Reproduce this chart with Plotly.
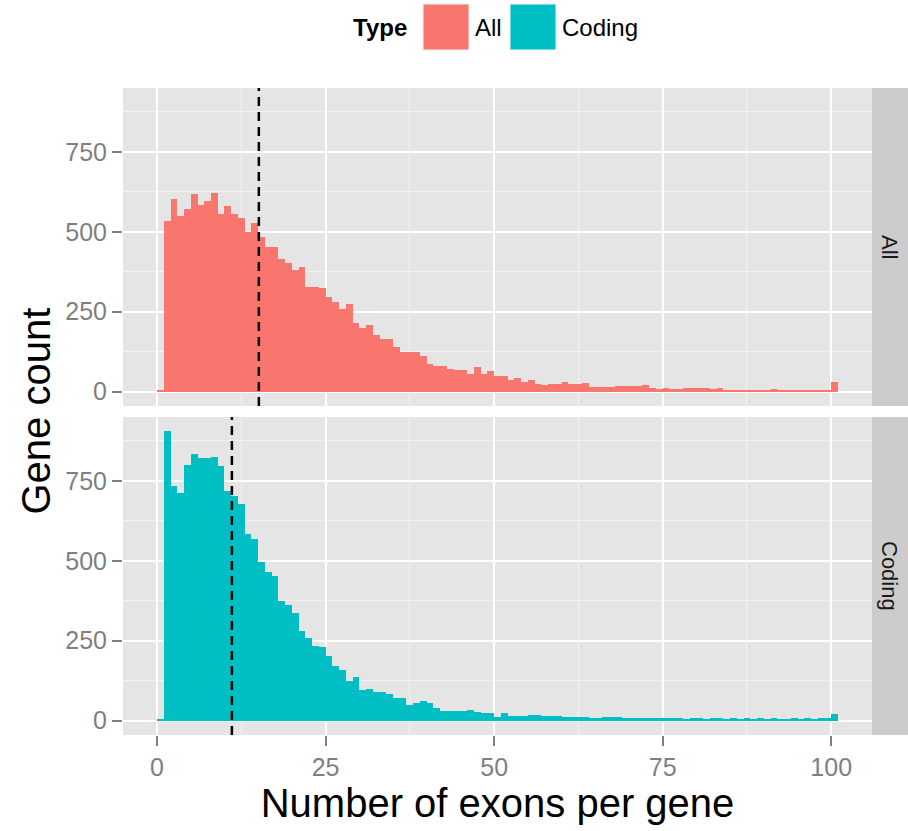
import plotly.graph_objects as go

# ---- data ----
bin_start = list(range(0, 101))  # exon-count bins [k, k+1)
all_counts = [3, 534, 603, 550, 571, 619, 584, 595, 623, 555,
              582, 555, 543, 498, 527, 485, 451, 451, 415, 402,
              381, 390, 326, 326, 323, 295, 280, 260, 275, 215,
              199, 210, 178, 165, 165, 140, 124, 124, 124, 110,
              87, 81, 81, 72, 69, 69, 56, 77, 55, 66,
              48, 48, 35, 44, 29, 35, 25, 20, 24, 24,
              29, 25, 25, 26, 15, 14, 13, 13, 18, 19,
              18, 19, 21, 10, 9, 10, 9, 9, 12, 11,
              10, 11, 9, 10, 5, 6, 5, 4, 6, 5,
              5, 7, 5, 4, 5, 6, 5, 4, 5, 6,
              29]
coding_counts = [3, 907, 734, 711, 800, 834, 821, 821, 824, 798,
                 720, 704, 677, 584, 568, 496, 464, 454, 373, 362,
                 336, 281, 260, 234, 230, 201, 170, 157, 124, 136,
                 96, 100, 91, 90, 83, 70, 70, 50, 55, 62,
                 54, 38, 31, 31, 31, 31, 34, 28, 24, 24,
                 10, 23, 15, 15, 15, 17, 17, 13, 13, 13,
                 11, 11, 11, 11, 7, 8, 11, 12, 11, 9,
                 8, 7, 8, 9, 7, 7, 8, 7, 6, 8,
                 7, 6, 7, 8, 6, 7, 6, 7, 6, 7,
                 6, 7, 6, 6, 7, 6, 7, 6, 7, 8,
                 20]
types = ["All", "Coding"]
type_colors = ["#F8766D", "#00BFC4"]
medians = [15.1, 11.1]
x_ticks = [0, 25, 50, 75, 100]
y_ticks = [0, 250, 500, 750]
x_title = "Number of exons per gene"
y_title = "Gene count"
legend_title = "Type"

W, H = 908, 831
FONT = "Liberation Sans"

def px(x):
    return x / W

def py(y):
    return 1 - y / H

# panel geometry (pixels)
PL, PR = 123, 872
panels_y = [(88, 406), (417, 735)]

fig = go.Figure()
centers = [b + 0.5 for b in bin_start]
series = [all_counts, coding_counts]
for i, (name, counts, col) in enumerate(zip(types, series, type_colors)):
    sfx = "" if i == 0 else "2"
    fig.add_trace(go.Bar(x=centers, y=counts, width=1.0, name=name,
                         marker=dict(color=col, line=dict(width=0)),
                         xaxis="x" + sfx, yaxis="y" + sfx, showlegend=False,
                         hoverinfo="x+y"))

axis_common = dict(showline=False, zeroline=False, gridcolor="white", gridwidth=2,
                   tickfont=dict(family=FONT, size=25, color="#7F7F7F"),
                   ticks="outside", tickcolor="#7F7F7F", tickwidth=2, ticklen=10)
xr = [-5.05, 106.05]
yr = [-45, 950]
minor_x = dict(showgrid=True, gridcolor="#F2F2F2", gridwidth=1,
               tickvals=[12.5, 37.5, 62.5, 87.5], ticks="")
minor_y = dict(showgrid=True, gridcolor="#F2F2F2", gridwidth=1,
               tickvals=[125, 375, 625, 875], ticks="")

layout = dict(width=W, height=H, margin=dict(l=0, r=0, t=0, b=0),
              paper_bgcolor="white", plot_bgcolor="#E5E5E5", bargap=0,
              barmode="overlay", showlegend=False)
for i, (yt, yb) in enumerate(panels_y):
    sfx = "" if i == 0 else "2"
    xa = dict(axis_common, domain=[px(PL), px(PR)], range=xr, tickvals=x_ticks,
              anchor="y" + sfx, minor=minor_x)
    if i == 0:
        xa.update(showticklabels=False, ticks="")
    else:
        xa.update(title=dict(text=x_title, font=dict(family=FONT, size=40, color="black"),
                             standoff=6))
    ya = dict(axis_common, domain=[py(yb), py(yt)], range=yr, tickvals=y_ticks,
              anchor="x" + sfx, minor=minor_y)
    layout["xaxis" + sfx] = xa
    layout["yaxis" + sfx] = ya
fig.update_layout(**layout)

shapes = []
annotations = []
for i, (yt, yb) in enumerate(panels_y):
    sfx = "" if i == 0 else "2"
    # facet strip
    shapes.append(dict(type="rect", xref="paper", yref="paper",
                       x0=px(PR), x1=px(W), y0=py(yb), y1=py(yt),
                       fillcolor="#CCCCCC", line=dict(width=0), layer="below"))
    annotations.append(dict(text=types[i], xref="paper", yref="paper",
                            x=px((PR + W) / 2), y=py((yt + yb) / 2), showarrow=False,
                            textangle=90, font=dict(family=FONT, size=22, color="#1A1A1A"),
                            xanchor="center", yanchor="middle"))
    # median dashed line
    shapes.append(dict(type="line", xref="x" + sfx, yref=("y" + sfx) + " domain",
                       x0=medians[i], x1=medians[i], y0=0, y1=1,
                       line=dict(color="black", width=2.5, dash="9px,6px")))

# y axis title
annotations.append(dict(text=y_title, xref="paper", yref="paper", x=px(35),
                        y=py((88 + 735) / 2), showarrow=False, textangle=-90,
                        font=dict(family=FONT, size=40, color="black"),
                        xanchor="center", yanchor="middle"))

# legend (manual, ggplot-style large keys)
annotations.append(dict(text="<b>" + legend_title + "</b>", xref="paper", yref="paper",
                        x=px(351), y=py(28), showarrow=False, xanchor="left",
                        yanchor="middle", font=dict(family=FONT, size=24, color="black")))
key_x = [423, 510]
lab_x = [473, 560]
for i in range(2):
    shapes.append(dict(type="rect", xref="paper", yref="paper",
                       x0=px(key_x[i]), x1=px(key_x[i] + 46), y0=py(50), y1=py(4),
                       fillcolor=type_colors[i], line=dict(color="#F2F2F2", width=1)))
    annotations.append(dict(text=types[i], xref="paper", yref="paper",
                            x=px(lab_x[i]), y=py(28), showarrow=False, xanchor="left",
                            yanchor="middle", font=dict(family=FONT, size=24, color="black")))

fig.update_layout(shapes=shapes, annotations=annotations)
fig.write_html("out.html")
